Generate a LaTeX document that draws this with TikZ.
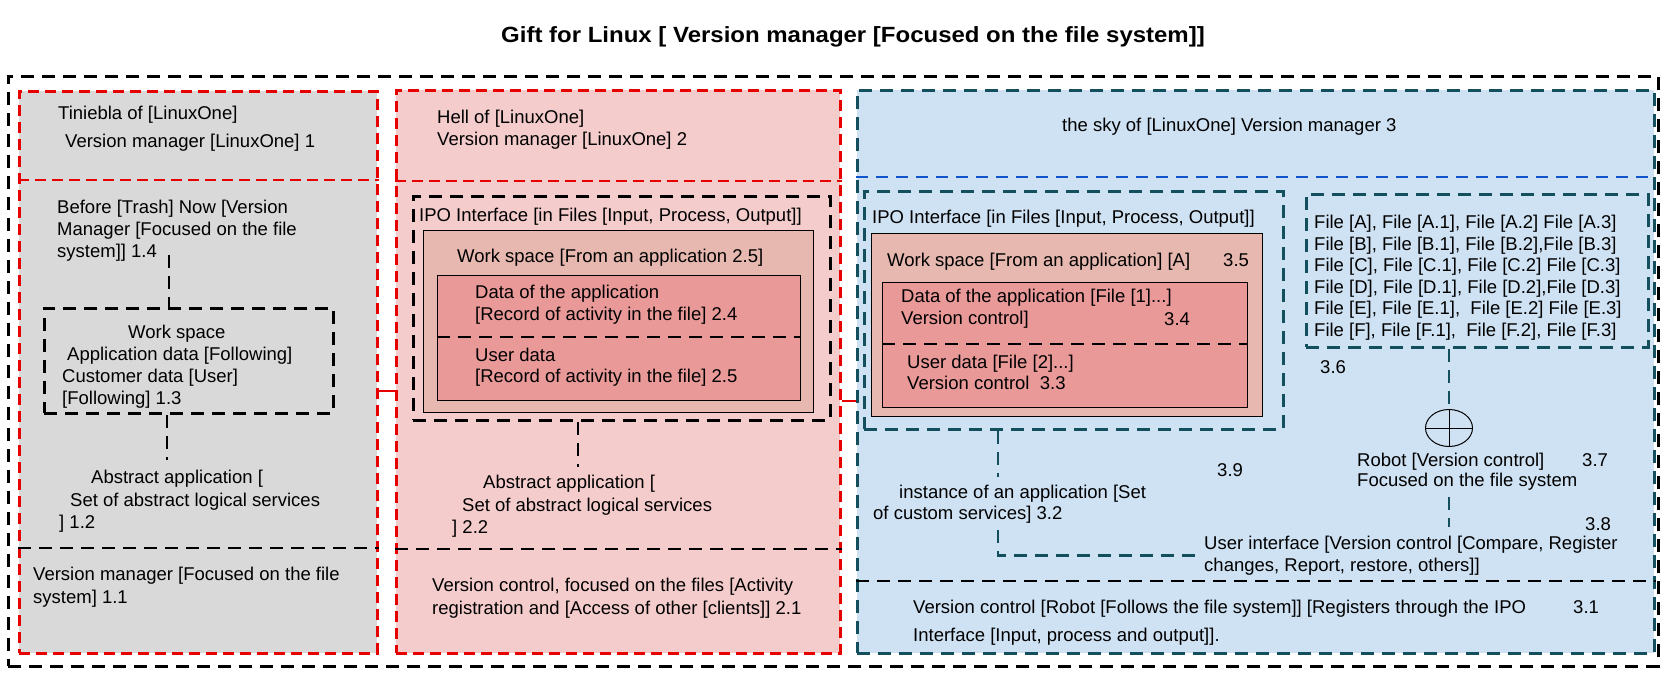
\documentclass[tikz,border=0pt]{standalone}
\usepackage{fontspec}
\usepackage{graphicx}
\setmainfont{Liberation Sans}
\usetikzlibrary{shapes.geometric}
\definecolor{redb}{HTML}{E60000}
\definecolor{tealb}{HTML}{134F5C}
\definecolor{blued}{HTML}{1155CC}
\definecolor{grayf}{HTML}{D9D9D9}
\definecolor{pinkf}{HTML}{F4CCCC}
\definecolor{wsf}{HTML}{E6B8AF}
\definecolor{datf}{HTML}{EA9999}
\definecolor{bluef}{HTML}{CFE2F3}
\newcommand{\mylines}[2]{\vtop{\baselineskip=#1pt\relax\halign{##\hfil\cr#2\crcr}}}
\tikzset{
  box/.style={rectangle, inner sep=0pt, anchor=north west},
  reddash/.style={draw=redb, line width=2.8pt, dash pattern=on 11pt off 6pt},
  redline/.style={draw=redb, line width=2.8pt},
  blkdash/.style={draw=black, line width=2.8pt, dash pattern=on 13pt off 8pt},
  tealdash/.style={draw=tealb, line width=2.8pt, dash pattern=on 13pt off 8pt},
  bluedash/.style={draw=blued, line width=2.8pt, dash pattern=on 12pt off 8pt},
  thinbox/.style={draw=black, line width=1pt},
  txt/.style={anchor=base west, inner sep=0pt, font=\fontsize{18.5}{21.5}\selectfont},
}
\begin{document}
\begin{tikzpicture}[x=1pt,y=-1pt]
\useasboundingbox (0,0) rectangle (1677,677);
% title
\node[anchor=base, inner sep=0pt, font=\bfseries\fontsize{22}{26}\selectfont] (title) at (853,42) {\scalebox{1.09}[1]{Gift for Linux [ Version manager [Focused on the file system]]}};
% outer frame
\node[box, blkdash, minimum width=1650pt, minimum height=590pt] (outer) at (7,75) {};
% columns
\node[box, reddash, fill=grayf, minimum width=358pt, minimum height=562pt] (c1) at (18,90) {};
\node[box, reddash, fill=pinkf, minimum width=444pt, minimum height=563pt] (c2) at (395,89) {};
\node[box, tealdash, fill=bluef, minimum width=797pt, minimum height=563pt] (c3) at (856,89) {};
% dividers
\draw[reddash] ([yshift=-90pt]c1.north west) -- ([yshift=-90pt]c1.north east);
\draw[blkdash] ([yshift=-458pt]c1.north west) -- ([yshift=-458pt]c1.north east);
\draw[reddash] ([yshift=-92pt]c2.north west) -- ([yshift=-92pt]c2.north east);
\draw[blkdash] ([yshift=-460pt]c2.north west) -- ([yshift=-460pt]c2.north east);
\draw[bluedash] ([yshift=-88pt]c3.north west) -- ([yshift=-88pt]c3.north east);
\draw[blkdash] ([yshift=-492pt]c3.north west) -- ([yshift=-492pt]c3.north east);
% links between columns
\draw[redline] (c1.east |- 0,391) -- (c2.west |- 0,391);
\draw[redline] (c2.east |- 0,401) -- (c3.west |- 0,401);
% ---------------- column 1
\node[txt] (t1) at (58,119.5) {\mylines{28}{Tiniebla of [LinuxOne]\cr\kern7pt Version manager [LinuxOne] 1}};
\node[txt] (before) at (57,213.5) {\mylines{22}{Before [Trash] Now [Version\cr Manager [Focused on the file\cr system]] 1.4}};
\node[box, blkdash, minimum width=289pt, minimum height=105pt] (ws1) at (43,307) {};
\node[txt] (ws1t) at (62,338.5) {\mylines{22}{\kern66pt Work space\cr\kern5pt Application data [Following]\cr Customer data [User]\cr [Following] 1.3}};
\node[txt] (abs1) at (59,483.5) {\mylines{22.5}{\kern32pt Abstract application [\cr\kern11pt Set of abstract logical services\cr ] 1.2}};
\node[txt] (vm1) at (33,580.5) {\mylines{23}{Version manager [Focused on the file\cr system] 1.1}};
\coordinate (k1) at (169,255);
\coordinate (k2) at (167,460);
\draw[blkdash] (k1) -- (ws1.north -| k1);
\draw[blkdash] (ws1.south -| k2) -- (k2);
% ---------------- column 2
\node[txt] (t2) at (437,123.5) {\mylines{22}{Hell of [LinuxOne]\cr Version manager [LinuxOne] 2}};
\node[box, blkdash, minimum width=417pt, minimum height=224pt] (ipo2) at (412,195) {};
\node[txt] (ipo2t) at (419,221.5) {IPO Interface [in Files [Input, Process, Output]]};
\node[box, thinbox, fill=wsf, minimum width=390pt, minimum height=182pt] (wsb2) at (423,230) {};
\node[txt] (wsb2t) at (457,262.5) {Work space [From an application 2.5]};
\node[box, thinbox, fill=datf, minimum width=363pt, minimum height=125pt] (dat2) at (437,275) {};
\draw[blkdash] ([yshift=-62pt]dat2.north west) -- ([yshift=-62pt]dat2.north east);
\node[txt] (ad2) at (475,298.5) {\mylines{22}{Data of the application\cr [Record of activity in the file] 2.4}};
\node[txt] (ud2) at (475,361.5) {\mylines{21}{User data\cr [Record of activity in the file] 2.5}};
\node[txt] (abs2) at (452,488.5) {\mylines{22.5}{\kern31pt Abstract application [\cr\kern10pt Set of abstract logical services\cr ] 2.2}};
\node[txt] (vc2) at (432,591.5) {\mylines{23}{Version control, focused on the files [Activity\cr registration and [Access of other [clients]] 2.1}};
\coordinate (k3) at (578,467);
\draw[blkdash] (ipo2.south -| k3) -- (k3);
% ---------------- column 3
\node[txt] (t3) at (1062,131.5) {the sky of [LinuxOne] Version manager 3};
\node[box, tealdash, minimum width=419pt, minimum height=238pt] (ipo3) at (863,190) {};
\node[txt] (ipo3t) at (872,223.5) {IPO Interface [in Files [Input, Process, Output]]};
\node[box, thinbox, fill=wsf, minimum width=391pt, minimum height=183pt] (wsb3) at (871,233) {};
\node[txt] (wsb3t) at (887,266.5) {Work space [From an application] [A]};
\node[txt] (n35) at (1223,266.5) {3.5};
\node[box, thinbox, fill=datf, minimum width=365pt, minimum height=125pt] (dat3) at (882,282) {};
\draw[blkdash] ([yshift=-62pt]dat3.north west) -- ([yshift=-62pt]dat3.north east);
\node[txt] (ad3) at (901,302.5) {\mylines{22}{Data of the application [File [1]...]\cr Version control]}};
\node[txt] (n34) at (1164,325.5) {3.4};
\node[txt] (ud3) at (907,368.5) {\mylines{21}{User data [File [2]...]\cr Version control~ 3.3}};
\node[box, tealdash, minimum width=342pt, minimum height=153pt] (files) at (1305,193) {};
\node[txt] (filest) at (1314,228.5) {\mylines{21.6}{File [A], File [A.1], File [A.2] File [A.3]\cr
File [B], File [B.1], File [B.2],File [B.3]\cr
File [C], File [C.1], File [C.2] File [C.3]\cr
File [D], File [D.1], File [D.2],File [D.3]\cr
File [E], File [E.1],~ File [E.2] File [E.3]\cr
File [F], File [F.1],~ File [F.2], File [F.3]}};
\node[txt] (n36) at (1320,373.5) {3.6};
\node[ellipse, draw=black, line width=1pt, inner sep=0pt, minimum width=47pt, minimum height=37pt] (rob) at (1449,428) {};
\draw[line width=1pt] (rob.north) -- (rob.south);
\draw[line width=1pt] (rob.west) -- (rob.east);
\draw[tealdash] (files.south -| rob) -- (rob.north);
\node[txt] (robt) at (1357,466.5) {\mylines{20}{Robot [Version control]\cr Focused on the file system}};
\node[txt] (n37) at (1582,466.5) {3.7};
\node[txt] (n38) at (1585,530.5) {3.8};
\node[txt] (n39) at (1217,476.5) {3.9};
\node[txt] (ui) at (1204,549.5) {\mylines{22}{User interface [Version control [Compare, Register\cr changes, Report, restore, others]]}};
\draw[tealdash] ([yshift=-6pt]robt.south -| rob) -- ([yshift=9pt]ui.north -| rob);
\node[txt] (inst) at (873,498.5) {\mylines{21}{\kern26pt instance of an application [Set\cr of custom services] 3.2}};
\coordinate (k4) at (998,477);
\coordinate (k5) at (998,530);
\draw[tealdash] (ipo3.south -| k4) -- (k4);
\draw[tealdash] (k5) |- ([xshift=-8pt]ui.west);
\node[txt] (vc3) at (913,613.5) {\mylines{28}{Version control [Robot [Follows the file system]] [Registers through the IPO\cr Interface [Input, process and output]].}};
\node[txt] (n31) at (1573,613.5) {3.1};
\end{tikzpicture}
\end{document}
